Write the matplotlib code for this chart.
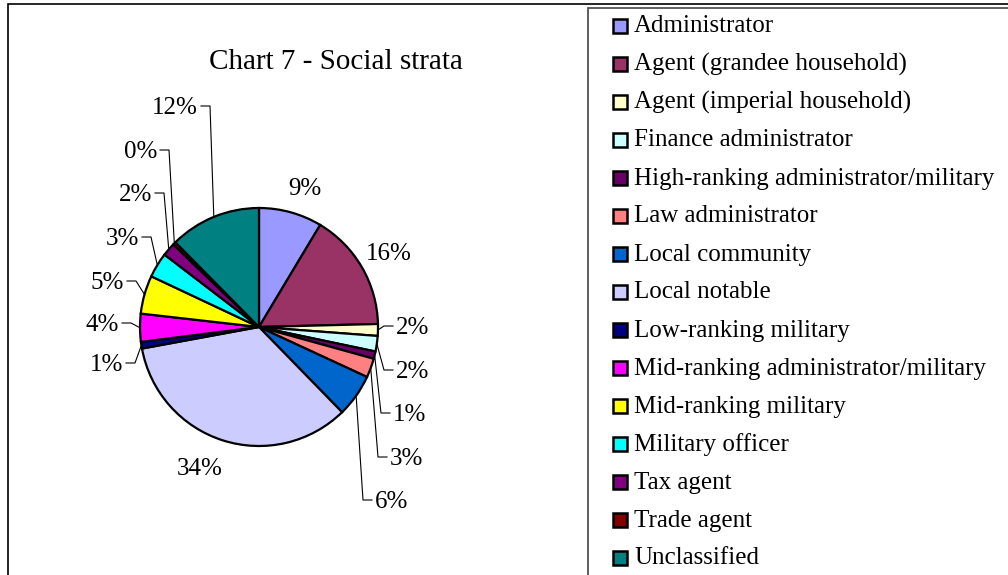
import numpy as np
import matplotlib.pyplot as plt
from matplotlib.patches import Rectangle

# social strata, share in percent
strata = ['Administrator', 'Agent (grandee household)', 'Agent (imperial household)',
          'Finance administrator', 'High-ranking administrator/military', 'Law administrator',
          'Local community', 'Local notable', 'Low-ranking military',
          'Mid-ranking administrator/military', 'Mid-ranking military', 'Military officer',
          'Tax agent', 'Trade agent', 'Unclassified']
shares = [8.6, 16.0, 1.6, 2.1, 1.0, 2.6, 5.8, 34.4, 0.9, 3.8, 5.2, 3.4, 1.8, 0.4, 12.4]
colors = ['#9999FF', '#993366', '#FFFFCC', '#CCFFFF', '#660066', '#FF8080', '#0066CC',
          '#CCCCFF', '#000080', '#FF00FF', '#FFFF00', '#00FFFF', '#800080', '#800000', '#008080']

# label placement in pixels (x, y from top), side of text, leader line or not
label_pos = [(305, 187), (389, 252), (396, 326), (396, 370), (393, 413), (390, 457),
             (375, 500), (200, 467), (123, 363), (119, 323), (124, 281), (139, 237),
             (152, 193), (157, 150), (198, 106)]
label_ha = ['center', 'center', 'left', 'left', 'left', 'left', 'left', 'center',
            'right', 'right', 'right', 'right', 'right', 'right', 'right']
has_leader = [False, False, True, True, True, True, True, False,
              True, True, True, True, True, True, True]

W, H = 1008, 575
def Y(y):
    return H - y

plt.rcParams['font.family'] = ['Liberation Serif', 'DejaVu Serif']

fig = plt.figure(figsize=(W / 100, H / 100), dpi=100)
ax = fig.add_axes([0, 0, 1, 1])

cx, cy, r = 259, Y(327), 119
wedges, _ = ax.pie(shares, colors=colors, startangle=90, counterclock=False,
                   center=(cx, cy), radius=r, frame=True,
                   wedgeprops=dict(edgecolor='black', linewidth=1.6))
ax.set_xlim(0, W)
ax.set_ylim(0, H)
ax.set_aspect('auto')
ax.axis('off')

# percentage labels with leader lines
cum = np.cumsum([0] + shares[:-1])
for i, s in enumerate(shares):
    tx, ty = label_pos[i]
    ax.text(tx, Y(ty + 8), f'{round(s):d}%', ha=label_ha[i], va='baseline', fontsize=18)
    if has_leader[i]:
        mid = np.deg2rad(90 - 3.6 * (cum[i] + s / 2))
        ex, ey = cx + r * np.cos(mid), cy + r * np.sin(mid)
        if label_ha[i] == 'left':
            sx = tx - 3
            kx = sx - 9
        else:
            sx = tx + 3
            kx = sx + 9
        ax.plot([sx, kx, ex], [Y(ty), Y(ty), ey], color='black', lw=0.8)

ax.text(336, Y(69), 'Chart 7 - Social strata', ha='center', va='baseline', fontsize=21)

# frames
ax.add_patch(Rectangle((7.5, -5), W, Y(3.5) + 5, fill=False, edgecolor='black', lw=1.2))
ax.add_patch(Rectangle((587.5, -5), W, Y(7.5) + 5, fill=False, edgecolor='#444444', lw=1.2))

# legend
for i, name in enumerate(strata):
    ly = 25.5 + 38.0 * i
    ax.add_patch(Rectangle((613, Y(ly) - 7), 14, 14, facecolor=colors[i], edgecolor='black', lw=1.8))
    ax.text(634, Y(ly + 7), name, ha='left', va='baseline', fontsize=18)

fig.savefig('out.png', dpi=100)
